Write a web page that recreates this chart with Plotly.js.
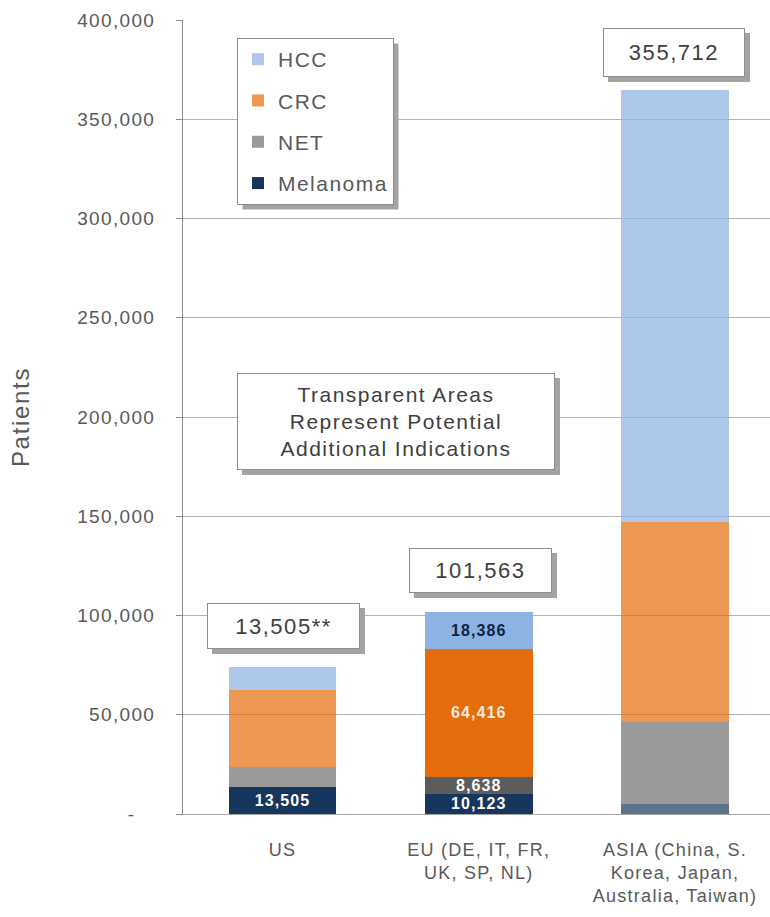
<!DOCTYPE html>
<html>
<head>
<meta charset="utf-8">
<script src="https://cdn.plot.ly/plotly-3.0.1.min.js"></script>
<style>
  html, body { margin: 0; padding: 0; background: #fff; }
  svg text { letter-spacing: 0.07em; }
</style>
</head>
<body>
<div id="chart" style="width:770px;height:917px;"></div>
<script>
// ---- data ----
const categories = ['US', 'EU (DE, IT, FR,<br>UK, SP, NL)', 'ASIA (China, S.<br>Korea, Japan,<br>Australia, Taiwan)'];
const melanoma = [13505, 10123, 5000];
const net      = [10100, 8638, 41300];
const crc      = [38800, 64416, 100800];
const hcc      = [11600, 18386, 217600];
const totalLabels = ['13,505**', '101,563', '355,712'];
const yTickVals = [0, 50000, 100000, 150000, 200000, 250000, 300000, 350000, 400000];
const yTickText = ['-\u00a0\u00a0\u00a0', '50,000', '100,000', '150,000', '200,000', '250,000', '300,000', '350,000', '400,000'];
// which bar segments carry a value label
const showMel = [true, true, false];
const showNet = [false, true, false];
const showCrc = [false, true, false];
const showHcc = [false, true, false];

// ---- layout helpers (pixel -> paper) ----
const W = 770, H = 917, ML = 183, MR = 0, MT = 20, MB = 103;
const PW = W - ML - MR, PH = H - MT - MB;
const px = v => (v - ML) / PW;
const py = v => (H - MB - v) / PH;

const fmt = v => v.toLocaleString('en-US');
const labels = (vals, show) => vals.map((v, i) => show[i] ? fmt(v) : '');

const barFont = {family: 'Liberation Sans, Arial, sans-serif', size: 16, weight: 'bold'};

function barTrace(name, rank, vals, show, colors, textColors) {
  return {
    type: 'bar', name: name, x: categories, y: vals,
    legendgroup: name, legendrank: rank,
    marker: {color: colors, line: {width: 0}},
    text: labels(vals, show),
    textposition: 'inside', insidetextanchor: 'middle', constraintext: 'none', textangle: 0,
    textfont: Object.assign({}, barFont, {color: textColors}),
    hoverinfo: 'name+y'
  };
}

// stacked from the bottom: Melanoma, NET, CRC, HCC
const traces = [
  barTrace('Melanoma', 4, melanoma, showMel, ['#17365d', '#17365d', 'rgba(23,54,93,0.7)'], ['#ffffff', '#ffffff', '#ffffff']),
  barTrace('NET', 3, net, showNet, ['rgba(92,92,92,0.62)', '#5c5c5c', 'rgba(92,92,92,0.62)'], ['#ffffff', '#ffffff', '#ffffff']),
  barTrace('CRC', 2, crc, showCrc, ['rgba(228,108,10,0.7)', '#e46c0a', 'rgba(228,108,10,0.7)'], ['#fde9d9', '#fde9d9', '#fde9d9']),
  barTrace('HCC', 1, hcc, showHcc, ['rgba(141,179,226,0.72)', '#8db3e2', 'rgba(141,179,226,0.72)'], ['#0f2441', '#0f2441', '#0f2441'])
];

const textFont = {family: 'Liberation Sans, Arial, sans-serif', color: '#404040'};

// boxes: [left, top, right, bottom] in px
const boxes = [
  {text: totalLabels[0], b: [207, 603, 360, 649], size: 22},
  {text: totalLabels[1], b: [409, 548, 552, 593], size: 22},
  {text: totalLabels[2], b: [603, 28, 745, 77], size: 22},
  {text: 'Transparent Areas<br>Represent Potential<br>Additional Indications', b: [237, 373, 555, 470], size: 21}
];
const SH = 5;
const shapes = [];
const annotations = [];
boxes.forEach(bx => {
  const [l, t, r, btm] = bx.b;
  shapes.push({type: 'rect', xref: 'paper', yref: 'paper', layer: 'above',
    x0: px(l + SH), x1: px(r + SH), y0: py(t + SH), y1: py(btm + SH),
    fillcolor: '#a3a3a3', line: {width: 0}});
  annotations.push({xref: 'paper', yref: 'paper', x: px(l), y: py(t), xanchor: 'left', yanchor: 'top',
    width: r - l - 2, height: btm - t - 2, showarrow: false, text: bx.text,
    font: Object.assign({}, textFont, {size: bx.size}),
    bgcolor: '#ffffff', bordercolor: '#8c8c8c', borderwidth: 1, borderpad: 0, align: 'center', valign: 'middle'});
});

const layout = {
  width: W, height: H,
  margin: {l: ML, r: MR, t: MT, b: MB},
  paper_bgcolor: '#ffffff', plot_bgcolor: '#ffffff',
  barmode: 'stack', bargap: 0.45,
  font: {family: 'Liberation Sans, Arial, sans-serif', color: '#595959'},
  xaxis: {
    type: 'category', range: [-0.507, 2.484], fixedrange: true,
    showline: true, linecolor: '#a6a6a6', linewidth: 1,
    ticks: '', tickfont: {size: 18, color: '#595959'}, ticklabelstandoff: 19,
    showgrid: false
  },
  yaxis: {
    range: [0, 400000], tickvals: yTickVals, ticktext: yTickText,
    showline: true, linecolor: '#8c8c8c', linewidth: 1,
    ticks: 'outside', ticklen: 6, tickcolor: '#8c8c8c',
    showgrid: true, gridcolor: '#b3b3b3', gridwidth: 1, zeroline: false,
    tickfont: {size: 19, color: '#595959'}, ticklabelstandoff: 17,
    title: {text: 'Patients', font: {size: 24, color: '#595959'}, standoff: 40}
  },
  showlegend: true,
  legend: {
    x: px(237), y: py(38), xanchor: 'left', yanchor: 'top',
    bgcolor: '#ffffff', bordercolor: '#8c8c8c', borderwidth: 1,
    traceorder: 'grouped', tracegroupgap: 11,
    font: {size: 21, color: '#595959'}
  },
  shapes: shapes,
  annotations: annotations
};

Plotly.newPlot('chart', traces, layout, {displayModeBar: false, staticPlot: true}).then(gd => {
  // drop shadow behind the legend box, sized to the drawn legend
  const bg = gd.querySelector('.legend .bg');
  if (!bg) return;
  const r = bg.getBoundingClientRect();
  const c = gd.getBoundingClientRect();
  const l = r.left - c.left, t = r.top - c.top;
  const newShapes = shapes.concat([{type: 'rect', xref: 'paper', yref: 'paper', layer: 'above',
    x0: px(l + SH), x1: px(l + r.width + SH), y0: py(t + SH), y1: py(t + r.height + SH),
    fillcolor: '#a3a3a3', line: {width: 0}}]);
  return Plotly.relayout(gd, {shapes: newShapes});
});
</script>
</body>
</html>
